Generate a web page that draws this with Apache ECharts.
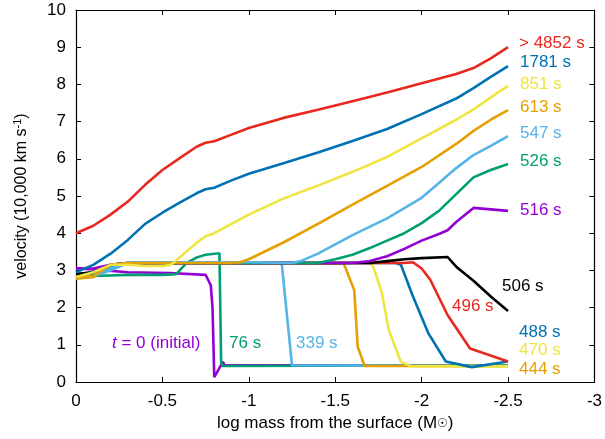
<!DOCTYPE html>
<html><head><meta charset="utf-8">
<script src="https://cdn.jsdelivr.net/npm/echarts@6/dist/echarts.min.js"></script>
<style>html,body{margin:0;padding:0;background:#fff}#c{width:605px;height:439px}</style>
</head><body><div id="c"></div>
<script>
// x: log mass from the surface, y: velocity (10,000 km/s)
const xTicks = [0, -0.5, -1, -1.5, -2, -2.5, -3];
const yTicks = [0,1,2,3,4,5,6,7,8,9,10];
const v4852 = [[0,4.0],[-0.1,4.2],[-0.2,4.5],[-0.3,4.85],[-0.4,5.3],[-0.5,5.7],[-0.6,6.02],[-0.7,6.33],[-0.75,6.43],[-0.8,6.47],[-0.9,6.65],[-1.0,6.83],[-1.2,7.1],[-1.4,7.32],[-1.6,7.55],[-1.8,7.78],[-2.0,8.03],[-2.2,8.28],[-2.3,8.44],[-2.4,8.7],[-2.5,9.0]];
const v1781 = [[0,2.95],[-0.1,3.15],[-0.2,3.45],[-0.3,3.82],[-0.4,4.25],[-0.5,4.55],[-0.6,4.82],[-0.7,5.08],[-0.75,5.18],[-0.8,5.22],[-0.9,5.42],[-1.0,5.6],[-1.2,5.88],[-1.4,6.17],[-1.6,6.48],[-1.8,6.8],[-2.0,7.2],[-2.2,7.62],[-2.3,7.9],[-2.4,8.2],[-2.5,8.49]];
const v851 = [[0,2.82],[-0.1,2.95],[-0.2,3.15],[-0.3,3.15],[-0.4,3.12],[-0.5,3.12],[-0.55,3.15],[-0.6,3.35],[-0.7,3.75],[-0.75,3.92],[-0.8,4.0],[-0.9,4.25],[-1.0,4.5],[-1.2,4.93],[-1.4,5.28],[-1.6,5.65],[-1.8,6.05],[-2.0,6.55],[-2.2,7.05],[-2.3,7.33],[-2.4,7.65],[-2.5,7.96]];
const v613 = [[0,2.8],[-0.1,2.85],[-0.2,3.15],[-0.3,3.2],[-0.5,3.2],[-0.7,3.2],[-0.9,3.2],[-0.95,3.22],[-1.0,3.3],[-1.2,3.75],[-1.4,4.25],[-1.6,4.77],[-1.8,5.27],[-2.0,5.78],[-2.2,6.4],[-2.3,6.75],[-2.4,7.05],[-2.5,7.31]];
const v547 = [[0,2.8],[-0.1,2.85],[-0.2,3.05],[-0.3,3.22],[-0.5,3.22],[-0.8,3.22],[-1.0,3.22],[-1.25,3.2],[-1.3,3.25],[-1.4,3.45],[-1.5,3.7],[-1.6,3.95],[-1.8,4.4],[-2.0,4.95],[-2.1,5.35],[-2.2,5.75],[-2.3,6.1],[-2.4,6.35],[-2.5,6.61]];
const v526 = [[0,2.8],[-0.1,2.88],[-0.2,3.1],[-0.3,3.2],[-1.4,3.2],[-1.5,3.3],[-1.6,3.42],[-1.7,3.6],[-1.8,3.8],[-1.9,4.0],[-2.0,4.27],[-2.1,4.6],[-2.2,5.05],[-2.3,5.5],[-2.4,5.7],[-2.5,5.86]];
const v516 = [[0,3.05],[-0.1,3.05],[-0.2,3.15],[-0.3,3.2],[-1.6,3.2],[-1.7,3.25],[-1.8,3.38],[-1.9,3.58],[-2.0,3.8],[-2.1,3.98],[-2.15,4.08],[-2.2,4.3],[-2.3,4.68],[-2.5,4.6]];
const v506 = [[0,2.9],[-0.1,2.95],[-0.2,3.15],[-0.3,3.2],[-1.7,3.2],[-1.8,3.25],[-1.9,3.3],[-2.0,3.33],[-2.15,3.36],[-2.2,3.1],[-2.3,2.72],[-2.4,2.3],[-2.5,1.91]];
const v496 = [[0,2.85],[-0.1,2.9],[-0.2,3.12],[-0.3,3.2],[-1.9,3.2],[-1.95,3.22],[-2.0,3.05],[-2.05,2.75],[-2.15,1.8],[-2.28,0.9],[-2.5,0.55]];
const v488 = [[0,2.9],[-0.1,2.95],[-0.2,3.15],[-0.3,3.2],[-1.85,3.2],[-1.88,3.15],[-1.95,2.3],[-2.04,1.3],[-2.14,0.55],[-2.29,0.4],[-2.5,0.55]];
const v470 = [[0,2.8],[-0.1,2.85],[-0.2,3.12],[-0.3,3.2],[-1.7,3.2],[-1.72,3.1],[-1.77,2.4],[-1.81,1.4],[-1.88,0.54],[-1.94,0.42],[-2.5,0.42]];
const v444 = [[0,2.78],[-0.1,2.82],[-0.2,3.1],[-0.3,3.2],[-1.55,3.18],[-1.61,2.47],[-1.63,0.95],[-1.67,0.43],[-2.5,0.43]];
const v339 = [[0,2.8],[-0.1,2.85],[-0.2,3.0],[-0.3,3.2],[-1.19,3.2],[-1.25,0.45],[-2.5,0.43]];
const v76 = [[0,2.82],[-0.1,2.85],[-0.3,2.88],[-0.5,2.88],[-0.58,2.9],[-0.64,3.2],[-0.7,3.35],[-0.75,3.42],[-0.83,3.46],[-0.84,0.5],[-0.85,0.43],[-2.5,0.45]];
const v0 = [[0,3.06],[-0.3,2.95],[-0.54,2.93],[-0.75,2.88],[-0.78,2.6],[-0.79,2.0],[-0.8,0.13],[-0.85,0.54],[-0.86,0.45],[-2.5,0.45]];

const names = ['> 4852 s','1781 s','851 s','613 s','547 s','526 s','516 s','506 s','496 s','488 s','470 s','444 s','339 s','76 s','t = 0 (initial)'];
const datas = [v4852,v1781,v851,v613,v547,v526,v516,v506,v496,v488,v470,v444,v339,v76,v0];
const RED='#E8281E',BLUE='#0072B2',YEL='#F0E442',ORA='#E69F00',LB='#56B4E9',GRN='#009E73',PUR='#9400D3',BLK='#000000';
const colors = [RED,BLUE,YEL,ORA,LB,GRN,PUR,BLK,RED,BLUE,YEL,ORA,LB,GRN,PUR];
const FONT = 'Liberation Sans, Arial, sans-serif';

const chart = echarts.init(document.getElementById('c'), null, {renderer:'canvas'});
// later times drawn on top
const series = datas.map((d,i)=>({
  name:names[i], type:'line', data:d, xAxisIndex:0, yAxisIndex:0,
  showSymbol:false, symbol:'none', lineStyle:{color:colors[i], width:2.6}, itemStyle:{color:colors[i]},
  animation:false, z:2, zlevel:0
})).reverse();

// labels placed in pixels (text annotations)
const labels = [
  {t:'> 4852 s', x:519, y:45, c:RED},
  {t:'1781 s', x:520, y:64, c:BLUE},
  {t:'851 s', x:520, y:86, c:YEL},
  {t:'613 s', x:520, y:109, c:ORA},
  {t:'547 s', x:520, y:135, c:LB},
  {t:'526 s', x:520, y:163, c:GRN},
  {t:'516 s', x:520, y:212, c:PUR},
  {t:'506 s', x:502, y:288, c:BLK},
  {t:'496 s', x:452, y:308, c:RED},
  {t:'488 s', x:519, y:334, c:BLUE},
  {t:'470 s', x:519, y:352, c:YEL},
  {t:'444 s', x:519, y:371, c:ORA},
  {t:'76 s', x:229, y:345, c:GRN},
  {t:'339 s', x:296, y:345, c:LB}
];
const graphic = labels.map(l=>({type:'text', left:l.x, top:l.y-10, z:50,
  style:{text:l.t, fill:l.c, font:'17px '+FONT}}));
graphic.push({type:'text', left:112, top:335, z:50, style:{
  text:'{i|t} = 0 (initial)', fill:PUR, font:'17px '+FONT,
  rich:{i:{fontStyle:'italic', fontSize:17, fontFamily:FONT, fill:PUR, color:PUR}}
}});

const axisCommon = {
  axisLine:{show:true, onZero:false, lineStyle:{color:'#000', width:1.2}},
  axisTick:{show:true, inside:true, length:5, lineStyle:{color:'#000', width:1}},
  splitLine:{show:false}
};
chart.setOption({
  backgroundColor:'#fff',
  animation:false,
  grid:{left:76, right:8, top:10, bottom:57, containLabel:false},
  xAxis:[
    Object.assign({type:'value', min:-3, max:0, interval:0.5, inverse:true, position:'bottom',
      axisLabel:{color:'#000', fontSize:17, fontFamily:FONT, margin:11},
      name:'{a|log mass from the surface (M}{s|☉}{a|)}', nameLocation:'middle', nameGap:32,
      nameTextStyle:{rich:{a:{fontSize:17, fontFamily:FONT, color:'#000'}, s:{fontSize:12, fontFamily:'DejaVu Sans', color:'#000'}}}
    }, axisCommon),
    Object.assign({type:'value', min:-3, max:0, interval:0.5, inverse:true, position:'top', axisLabel:{show:false}}, axisCommon)
  ],
  yAxis:[
    Object.assign({type:'value', min:0, max:10, interval:1, position:'left',
      axisLabel:{color:'#000', fontSize:17, fontFamily:FONT, margin:10},
      name:'{a|velocity (10,000 km s}{b|-1}{a|)}', nameLocation:'middle', nameGap:45, nameRotate:90,
      nameTextStyle:{rich:{a:{fontSize:16, fontFamily:FONT, color:'#000'}, b:{fontSize:11, fontFamily:FONT, color:'#000', verticalAlign:'top', padding:[0,0,8,0]}}}
    }, axisCommon),
    Object.assign({type:'value', min:0, max:10, interval:1, position:'right', axisLabel:{show:false}}, axisCommon)
  ],
  series:series,
  graphic:graphic
});
</script></body></html>
